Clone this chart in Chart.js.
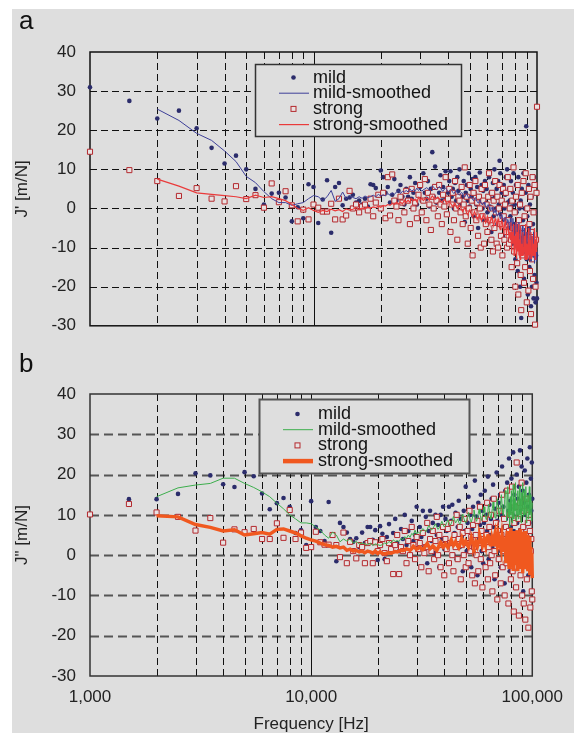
<!DOCTYPE html>
<html>
<head>
<meta charset="utf-8">
<script src="https://cdn.jsdelivr.net/npm/chart.js@4/dist/chart.umd.min.js"></script>
<style>
  body { margin: 0; background: #fff; width: 574px; height: 733px; overflow: hidden; position: relative; }
  #paper { position: absolute; left: 12px; top: 9px; right: 0; bottom: 0; background: #dedede; }
  canvas { position: absolute; left: 0; }
  #chartA { top: 0; }
  #chartB { top: 350px; }
  .tag { position: absolute; left: 19px; font: 26px 'Liberation Sans', Arial, sans-serif; line-height: 26px; color: #111; z-index: 2; }
</style>
</head>
<body>
<div id="paper"></div>
<canvas id="chartA" width="574" height="350"></canvas>
<canvas id="chartB" width="574" height="383"></canvas>
<div class="tag" style="top:7px">a</div>
<div class="tag" style="top:350px">b</div>
<script>
// frequency bins: 1,000 Hz to 100,000 Hz in 500 Hz steps
const FREQ_START = 1000;
const FREQ_STEP = 500;
const FREQ_COUNT = 199;
const FREQS = Array.from({ length: FREQ_COUNT }, (_, i) => FREQ_START + FREQ_STEP * i);

const Y_TICKS = [-30, -20, -10, 0, 10, 20, 30, 40];
const X_LABELS = [1000, 10000, 100000];
const X_GRID = [2000, 3000, 4000, 5000, 6000, 7000, 8000, 9000, 10000,
  20000, 30000, 40000, 50000, 60000, 70000, 80000, 90000];
const SERIES = ['mild', 'mild-smoothed', 'strong', 'strong-smoothed'];

// panel a: J' [m/N]
const A_MILD = [
  31, 27.5, 23, 25, 20.5, 15.5, 11.5, 13.5, 10, 5,
  1, 3.8, 4, 2.8, -3.3, 0.3, -2.5, 6.2, 5.5, -3.7,
  2.3, 7.2, -6.2, 5.5, 6.5, 0.8, 2.5, 2.8, 3.5, 1.5,
  2, 1, 2.5, 0.5, 6.2, 6, 5.2, 3.3, 9.7, 8,
  4, 5.5, 1.5, 3.5, 7.5, 2, 4.5, 6, 3, 1,
  5, 3, 8, 2.5, 4, 6.5, 1, 3.5, 5.5, 2,
  9, 4, 2.5, 7, 0.5, 5, 14.4, 3, 10.7, 1.5,
  6, 4, 8.5, 2, 5.5, 3, 9.5, -1.5, 4, 7,
  9.5, 3, 5, 0, 6.5, 2, 8, 4.5, 10, 1,
  5.5, 3, 7, -3.5, 4, 6, 2, 9, 0.5, 5,
  3, 7.5, -2, 4, 8, 1, 5.5, -5, 3, 9.2,
  2, 6, 0, 4.5, -3, 7, 1.5, 5, -1, 3,
  8, 0.5, 4, -6, 2.5, 6.5, -2, 10, 3, 0,
  5, -4, 7, 1, 12.2, 9, -1.5, 4, 2, -7,
  6, 0, 3.5, 8, -3, 10, 1.5, -5, 5, 2,
  -2, 7, 0.5, -9, 4, 9, -4, 1, -13, 6,
  -1, 3, -16, 8, -6, 0, -20, 2, -28, 5,
  -10, -3, 9, -18, 0, -7, 4, 21, -13, -2,
  -22, 6, -5, -15, 1, -9, -25, 3, -20, -11,
  -4, -23, 8, -17, -1, -24, -12, -19, -23
];
const A_MILD_SMOOTH = [
  null, null, 25.4, 22.5, 19.2, 17.4, 14.7, 12, 8.2, 6.6,
  4.3, 2.5, 1.5, 1.5, 0.8, 1.2, 1.5, 2.5, 3.3, 3,
  2, 3, 4.6, 1.8, 2.5, 4.2, 2.5, 3.2, 2.8, 2.5,
  3, 2.6, 3.2, 2.8, 3, 3.4, 3, 3.6, 3.2, 3.5,
  3.2, 3.8, 3.4, 4, 3.6, 4.2, 4.6, 3.8, 4.4, 4.2,
  4.6, 4.2, 5, 4.4, 4.8, 4.5, 5.2, 4.6, 5, 4.4,
  4.8, 5.0, 5.3, 5.1, 4.6, 4.9, 5.8, 5.4, 5.0, 4.8,
  5.2, 5.6, 5.3, 4.6, 4.4, 4.9, 5.2, 4.8, 4.3, 4.5,
  4.9, 4.6, 4.1, 3.8, 4.3, 4.6, 4.0, 3.6, 3.4, 3.8,
  4.1, 3.7, 3.2, 2.9, 3.4, 3.7, 3.1, 2.6, 2.9, 3.2,
  2.8, 2.3, 2.0, 2.5, 2.8, 2.2, 1.7, 1.4, 1.9, 2.2,
  1.7, 1.2, 0.9, 1.4, 1.6, 1.0, 0.4, 0.2, 0.8, 1.0,
  0.4, -0.3, -0.6, 0.1, 0.3, -0.5, -1.2, -0.9, -0.3, -1.0,
  -1.6, -2.0, -1.4, -1.1, -1.8, -2.6, -2.2, -1.5, -2.0, -3.0,
  -3.4, -2.6, -2.2, -3.0, -4.2, -3.5, -2.8, -3.6, -5.0, -4.4,
  -2.5, -4.5, -4, -6.5, -2.5, -5.5, -4.5, -7.5, -3.5, -5,
  -7, -4, -9, -5.5, -3.5, -8, -10, -5, -7, -9.5,
  -4.5, -10, -7, -11.5, -5, -9, -12, -6, -10, -13,
  -6, -10.5, -8, -12.5, -4.5, -10, -13.5, -7, -11.5, -9,
  -12.5, -6, -11, -14, -8, -12, -10, -13.5, -11
];
const A_STRONG = [
  14.5, 9.8, 7, 3.2, 5.2, 2.5, 1.8, 5.7, 2.4, 3.4,
  0.2, 6.4, 1.6, 4.4, 0.8, -3.3, -0.3, -2.8, 1, 0.2,
  -0.8, -0.8, 1.2, -2.8, 2.5, -2.8, -1.8, 4.5, 0, 1,
  -1, 0.5, 1, -0.5, 2.5, -2, 1.5, 3.5, 0, 4,
  -2.5, 8, -1.8, 8.7, 2, 0.5, -3, 3, 1.5, -1,
  4.5, 2, -4, 5, 0, 1.5, -2.5, 3.5, 6, -1,
  2, 7.5, -3, 4, 1, -5.5, 3, 0, 5.5, 2,
  -2, 6, 1, -4, 3.5, 0.5, 8, -1.5, 2.5, 5,
  -6, 1, 4, -3, 7, 0, -8, 3, 2, -1,
  5.5, -4, 1, 10.5, -2, 3, -9, 0, 6, -5,
  2, -12, 4, -1, 7, -3, 1.5, -7, 3, 0,
  -10, 5, -2, 2, -9, 6, -4, 1, -6, 3,
  9, -3, 0, -8, 4, -11, 2, -5, 7, -1,
  -9, 3, -10, 0, 6, -4, -7, 2, -12, 5,
  -2, -8, 1, 4, -6, -10, 8, -3, -9, 0,
  5, -8, -15, 2, -5, 10.5, -11, -1, -20, 3,
  -7, -14, 6, -22, -3, -9, 1, -17, -26, 4,
  -12, -5, 7, -19, -2, -15, 9, -8, -24, 0,
  -10, -21, 5, -4, -16, 3, -27, -6, -13, 8,
  -18, -1, -11, 6, -29.7, -20, -8, 4, 26
];
const A_STRONG_SMOOTH = [
  null, null, 7.5, 5.7, 4, 3.6, 3.3, 3, 2.5, 3.4,
  2.8, 3, 2.5, 2, 1, 0, -0.5, 0.2, -0.5, -1,
  -0.5, -0.8, -0.2, -0.6, -0.3, -0.8, -0.1, -0.4, -0.2, 0.2,
  -0.2, 0.1, -0.1, 0.4, 0.1, 0.4, 0.2, 0.6, 0.3, 0.8,
  0.6, 1, 0.8, 1.3, 1, 1.6, 1.2, 1.6, 1.2, 2,
  1.6, 2.1, 1.6, 2.5, 2, 2.4, 1.7, 2.8, 2.2, 2.6,
  2.0, 2.4, 2.8, 2.5, 2.1, 2.6, 3.2, 2.8, 2.3, 2.6,
  2.9, 2.5, 2.0, 1.6, 2.0, 2.3, 1.8, 1.2, 1.5, 1.9,
  1.4, 0.9, 0.5, 1.0, 1.3, 0.6, 0.0, 0.4, 0.9, 0.3,
  -0.3, -0.8, -0.2, 0.2, -0.5, -1.2, -1.6, -0.9, -0.4, -1.0,
  -1.6, -2.2, -1.5, -0.8, -1.3, -2.0, -2.8, -2.2, -1.4, -1.8,
  -2.5, -3.2, -2.4, -1.6, -2.2, -3.0, -3.6, -2.8, -2.0, -2.6,
  -3.4, -4.0, -3.0, -2.2, -2.8, -3.6, -4.4, -3.4, -2.6, -3.2,
  -4.2, -3.4, -2.6, -3.3, -4.8, -5.4, -4.0, -3.0, -3.8, -5.0,
  -5.8, -4.4, -3.2, -4.6, -6.5, -5.2, -3.8, -5.4, -7.5, -6.0,
  -8, -3.5, -11, -6, -9, -4, -12, -7, -10, -3.5,
  -13, -6, -11, -4, -12, -8, -13, -5, -12, -9,
  -12, -6, -12, -10, -7, -13, -4, -13, -9, -11,
  -13, -5, -12, -8, -13, -10, -6, -13, -11, -7,
  -12, -9, -12, -5, -13, -8, -11, -6, -10
];

// panel b: J" [m/N]
const B_MILD = [
  null, 13.9, 13.9, 15.2, 20.3, 19.8, 17.6, 16.9, 20.6, 19.6,
  15.3, 11.4, 12.9, 14.2, 12, 5.5, 6.2, 2.5, 13.4, 7,
  6, 3.5, 13.2, 5, -1.5, 8, 7, 5.6, 4, 3.3,
  4.2, 2, 5.6, 3, 7, 7, 3.8, 6.2, -1.2, 7.2,
  5.3, -1, 4.5, 7.7, 2, 5.5, 9, 3, 1, 6.5,
  4, 10, 2.5, 6, 0, 8.5, 3.5, 5, 12, 1.5,
  7, 4.5, 11, 2, 9.5, -2, 6, 11, 3.5, 8,
  0.5, 10, 5, 7.5, -3, 10, 4, 12, 1.5, 9,
  6, -2, 12, 3, 8.5, 12.5, 0, 5.5, 10.5, -1,
  7, 13.5, 2, 9, 4.5, -4, 11, 6, 17, 1,
  8, 14.5, 3, 10, -3, 6.5, 12, 0.5, 18.5, 5,
  9.5, -5, 13, 4, 7.5, 15, 1, 11, -2, 8,
  16, 3.5, 10, 6, 19.5, -1, 12.5, 5, 9, 14,
  2, 17.5, 7, -6, 11.5, 4, 20.5, 8.5, 1, 13,
  6, 15, -3, 10, 22, 3, 12, 7, -7, 16,
  9, 1, 18, 5, 11, 24, -4, 13.5, 7, 19,
  2, 10, 25.5, 6, 15, -8, 12, 4, 20, 8,
  14, -2, 17, 9, 26, 3, 11, 22, 6, 16,
  -9, 13, 7, 21, 10, 1, 18, 5, 24, 12,
  -5, 15, 8, 26.8, 4, 19, 11, 23, 14
];
const B_MILD_SMOOTH = [
  null, null, 14.5, 16.7, 17.4, 17.8, 19.1, 19.1, 17.8, 16.8,
  15.7, 14.5, 12.9, 11.5, 10, 9, 8, 8, 7.8, 7,
  6.2, 5, 4.2, 5.7, 5, 3.3, 4, 3.5, 4, 3,
  3.4, 2.8, 3, 2.8, 2.6, 3, 2.4, 2.8, 2.6, 2.4,
  2.6, 3, 2.8, 3.4, 3, 3.8, 3.4, 3.6, 3.4, 4.2,
  3.8, 4.6, 4.2, 5, 4.4, 5.4, 5, 6.2, 5.2, 5.8,
  5.4, 6.0, 6.6, 6.2, 5.8, 6.4, 7.4, 6.8, 6.2, 6.6,
  7.2, 7.8, 7.0, 6.4, 6.8, 7.6, 8.4, 7.6, 7.0, 7.4,
  8.0, 8.8, 8.2, 7.4, 7.8, 8.6, 9.6, 8.8, 8.0, 8.4,
  9.0, 8.2, 7.6, 8.2, 9.4, 10.2, 9.2, 8.4, 8.0, 8.8,
  9.6, 10.6, 9.6, 8.6, 8.2, 9.0, 10.0, 11.2, 10.0, 9.0,
  8.4, 9.2, 10.4, 11.4, 10.2, 9.2, 8.6, 9.6, 10.8, 12.0,
  10.6, 9.4, 8.8, 9.8, 11.2, 12.6, 11.0, 9.8, 9.0, 10.2,
  11.6, 13.2, 11.4, 9.8, 9.2, 10.6, 12.4, 14.0, 12.0, 10.4,
  9.6, 11.0, 13.0, 15.0, 12.6, 10.6, 9.8, 11.6, 13.8, 16.0,
  15.5, 8.5, 11, 17, 9.5, 13, 7, 14.5, 10, 16,
  8, 12, 17.5, 9, 14, 11, 18, 8.5, 13, 10,
  16, 9, 12.5, 17, 10, 14, 8, 15.5, 11, 18,
  9.5, 13, 16, 10, 12, 17, 8, 14, 11, 15,
  9, 13.5, 17, 10, 12, 15, 8.5, 11, 13
];
const B_STRONG = [
  10.1, 12.7, 10.6, 9.5, 6.1, 9.2, 3.1, 6.4, 5.7, 6.5,
  4, 4, 7.9, 4.3, 11.2, 4, 5.6, 1.8, 2, 5.8,
  3.2, 2.6, 2.6, 5, 2.5, -0.5, 5.6, -2, 3.3, 1,
  -0.8, 2.5, 2, -2, 3, 3.5, -2, 3.2, 1, 2.5,
  4, 0.5, -1.5, 3, 1.5, -4.7, 2.5, 5, -4.7, 2,
  1, 6, -2, 3.5, 0, 7, 2.5, -1, 4.5, 1.5,
  3, -3, 5.5, 0.5, 2, 8, -4, 4, 1, 6,
  -1, 3.5, 9.5, 0, 5, -3, 2.5, 7, -5, 4,
  1.5, 6.5, -2, 3, 8, 0, -4, 5, 2, 10,
  -1, 4, 7, -6, 2.5, 5.5, 0, 9, -3, 3,
  6, -2, 11, 1, 4.5, -5, 7.5, 2, -7, 5,
  0, 8.5, -4, 3, 12, -1, 6, -8, 4, 1.5,
  9, -3, 5, 13, -6, 2, 7, -2, 10, 0,
  -9, 4, 14, 1, -5, 8, 3, -11, 6, -1,
  11, 2, -7, 5, 15, -3, 1, 9, -10, 4,
  7, -2, 16, 0, -12, 6, 3, 10, -6, 2,
  17, -4, 5, -14, 8, 1, 12, -8, 23, 3,
  -1, 9, -15, 4, 13, -5, 6, 18, -10, 2,
  7, -12, 11, 0, -16, 5, 14, -6, 3, 8,
  -18, 10, -3, 6, -13, 1, 4, -9, -11
];
const B_STRONG_SMOOTH = [
  null, null, 9.8, 9.5, 7.6, 6.9, 6, 6.3, 5, 5.3,
  5.6, 5.2, 6.4, 6.5, 6, 5.5, 4.8, 4.2, 3.8, 3.5,
  3, 2.6, 2.4, 2, 2.2, 1.8, 2, 1.2, 1.5, 1,
  1.2, 0.8, 1, 0.6, 1, 0.8, 0.5, 1, 0.4, 0.8,
  0.4, 0.3, 0.5, 0.6, 0.5, 0.7, 0.9, 0.8, 1.0, 1.2,
  1.1, 1.3, 1.6, 1.4, 1.2, 1.6, 2.2, 1.8, 1.5, 1.7,
  2.0, 1.7, 1.4, 1.8, 2.4, 2.9, 2.2, 1.6, 1.9, 2.3,
  2.0, 1.5, 1.2, 1.8, 2.6, 3.2, 2.6, 2.0, 2.3, 2.8,
  2.4, 1.9, 2.4, 3.2, 3.8, 3.0, 2.4, 2.7, 3.3, 2.8,
  2.2, 1.8, 2.5, 3.4, 4.2, 3.4, 2.6, 2.9, 3.5, 3.0,
  2.4, 2.0, 2.8, 3.6, 4.4, 3.6, 2.8, 2.2, 2.9, 3.4,
  2.8, 2.2, 3.0, 3.8, 4.6, 3.8, 3.0, 2.4, 3.2, 4.0,
  3.2, 2.5, 3.4, 4.4, 5.2, 4.2, 3.2, 2.6, 3.4, 4.4,
  3.5, 2.6, 3.6, 4.8, 5.6, 4.2, 3.0, 2.2, 3.4, 4.6,
  3.8, 2.6, 1.8, 3.2, 4.8, 3.4, 2.0, 1.2, 2.8, 4.4,
  -2, 3.5, 6, 0.5, 2.8, -3, 5, 1.5, 6.8, -1,
  3.2, 4.8, -3.5, 6, 0.8, 2.5, -2.5, 5.5, 1, 6.2,
  -4, 3, 5.2, -1.5, 2, 6.5, -3, 4, 0.5, -4.5,
  5.8, 1.8, -2, 3.5, 6, -3.5, 2.5, 0, 5, -4,
  3, -1, 4.5, -5, 1.5, 2, -3, 0.5, -5.7
];

const FONT = "'Liberation Sans', Arial, sans-serif";
const PAPER = '#dedede';
const NAVY = '#2b2c6b';
const SQUARE_RED = '#b3282d';

Chart.defaults.font.family = FONT;
Chart.defaults.color = '#222';

const toPoints = (values) => values
  .map((v, i) => (v === null ? null : { x: FREQS[i], y: v }))
  .filter(Boolean);

// dashed grid + plot frame, drawn under the data
const gridPlugin = {
  id: 'dashGrid',
  beforeDatasetsDraw(chart, args, o) {
    const { ctx, chartArea: a, scales: { x, y } } = chart;
    ctx.save();
    ctx.lineWidth = o.hWidth;
    ctx.strokeStyle = o.hColor;
    ctx.setLineDash(o.hDash);
    Y_TICKS.slice(1, -1).forEach((v) => {
      const py = Math.round(y.getPixelForValue(v)) + 0.5;
      ctx.beginPath();
      ctx.moveTo(a.left, py);
      ctx.lineTo(a.right, py);
      ctx.stroke();
    });
    ctx.lineWidth = 1;
    ctx.strokeStyle = o.vColor;
    X_GRID.forEach((f) => {
      const px = Math.round(x.getPixelForValue(f)) + 0.5;
      ctx.setLineDash(f === 10000 ? [] : o.vDash);
      ctx.beginPath();
      ctx.moveTo(px, a.top);
      ctx.lineTo(px, a.bottom);
      ctx.stroke();
    });
    ctx.setLineDash([]);
    ctx.lineWidth = 1.5;
    ctx.strokeStyle = o.frameColor;
    ctx.strokeRect(a.left, a.top, a.right - a.left, a.bottom - a.top);
    ctx.restore();
  },
};

// boxed legend inside the plot
const boxLegend = {
  id: 'boxLegend',
  afterDatasetsDraw(chart, args, o) {
    const { ctx, chartArea: a } = chart;
    const bx = a.left + o.dx;
    const by = a.top + o.dy;
    ctx.save();
    ctx.setLineDash([]);
    ctx.fillStyle = PAPER;
    ctx.fillRect(bx, by, o.w, o.h);
    ctx.lineWidth = o.borderWidth;
    ctx.strokeStyle = o.borderColor;
    ctx.strokeRect(bx + 0.5, by + 0.5, o.w, o.h);
    ctx.font = '18px ' + FONT;
    ctx.textBaseline = 'alphabetic';
    chart.data.datasets.forEach((ds, i) => {
      const base = by + o.rowBase + i * o.rowGap;
      const my = base - 5;
      if (ds.showLine) {
        ctx.strokeStyle = ds.borderColor;
        ctx.lineWidth = ds.legendWidth || ds.borderWidth;
        ctx.beginPath();
        ctx.moveTo(bx + 24, my);
        ctx.lineTo(bx + 54, my);
        ctx.stroke();
      } else if (ds.pointStyle === 'rect') {
        ctx.fillStyle = ds.backgroundColor;
        ctx.strokeStyle = ds.borderColor;
        ctx.lineWidth = 1;
        ctx.fillRect(bx + 36, my - 2.5, 5, 5);
        ctx.strokeRect(bx + 36, my - 2.5, 5, 5);
      } else {
        ctx.fillStyle = ds.backgroundColor;
        ctx.beginPath();
        ctx.arc(bx + 38.5, my, 2.3, 0, Math.PI * 2);
        ctx.fill();
      }
      ctx.fillStyle = '#111';
      ctx.fillText(ds.label, bx + o.textX, base);
    });
    ctx.restore();
  },
};

function makePanel(canvasId, p) {
  const datasets = [
    {
      label: SERIES[0], data: toPoints(p.mild), showLine: false, order: 3,
      pointStyle: 'circle', pointRadius: 2.3, backgroundColor: NAVY, borderWidth: 0, clip: false,
    },
    {
      label: SERIES[1], data: toPoints(p.mildSmooth), showLine: true, order: 1,
      borderColor: p.mildLine, borderWidth: 1, pointRadius: 0, tension: 0, clip: false,
    },
    {
      label: SERIES[2], data: toPoints(p.strong), showLine: false, order: 2,
      pointStyle: 'rect', pointRadius: 3.6, backgroundColor: '#e8e2e2',
      borderColor: SQUARE_RED, borderWidth: 1, clip: false,
    },
    {
      label: SERIES[3], data: toPoints(p.strongSmooth), showLine: true, order: 0,
      borderColor: p.strongLine, borderWidth: p.strongWidth, legendWidth: p.strongLegendWidth,
      pointRadius: 0, tension: 0, clip: false,
    },
  ];

  return new Chart(document.getElementById(canvasId), {
    type: 'scatter',
    data: { datasets },
    plugins: [gridPlugin, boxLegend],
    options: {
      responsive: false,
      animation: false,
      events: [],
      layout: { padding: p.padding },
      plugins: {
        legend: { display: false },
        tooltip: { enabled: false },
        dashGrid: p.grid,
        boxLegend: p.legend,
      },
      scales: {
        x: {
          type: 'logarithmic',
          min: 1000,
          max: 100000,
          grid: { display: false, drawTicks: false },
          border: { display: false },
          ticks: {
            display: p.showX,
            autoSkip: false,
            maxRotation: 0,
            padding: 11,
            font: { size: 17 },
            callback: (v) => (X_LABELS.includes(Math.round(v)) ? Math.round(v).toLocaleString('en-US') : ''),
          },
          title: {
            display: p.showX,
            text: 'Frequency [Hz]',
            font: { size: 17, lineHeight: 1 },
            padding: { top: 0, bottom: 0 },
          },
          afterFit: (scale) => { scale.height = p.xHeight; },
        },
        y: {
          min: -30,
          max: 40,
          grid: { display: false, drawTicks: false },
          border: { display: false },
          ticks: { stepSize: 10, padding: 14, font: { size: 17 } },
          title: {
            display: true,
            text: p.yTitle,
            font: { size: 17 },
            padding: { top: 12, bottom: 0 },
          },
          afterFit: (scale) => { scale.width = 90; },
        },
      },
    },
  });
}

makePanel('chartA', {
  mild: A_MILD, mildSmooth: A_MILD_SMOOTH, strong: A_STRONG, strongSmooth: A_STRONG_SMOOTH,
  mildLine: '#3d3f98', strongLine: '#ea3b3b', strongWidth: 1.2, strongLegendWidth: 1.2,
  yTitle: "J' [m/N]",
  showX: false, xHeight: 0,
  padding: { left: 0, top: 52, right: 37, bottom: 16 },
  grid: { hColor: '#111', hWidth: 1, hDash: [7, 4], vColor: '#111', vDash: [7, 4], frameColor: '#111' },
  legend: { dx: 165, dy: 12, w: 206, h: 72, borderColor: '#333', borderWidth: 1.5, rowBase: 18.5, rowGap: 15.7, textX: 58 },
});

makePanel('chartB', {
  mild: B_MILD, mildSmooth: B_MILD_SMOOTH, strong: B_STRONG, strongSmooth: B_STRONG_SMOOTH,
  mildLine: '#3cae4c', strongLine: '#f0581f', strongWidth: 3.5, strongLegendWidth: 4.5,
  yTitle: 'J" [m/N]',
  showX: true, xHeight: 57,
  padding: { left: 0, top: 44, right: 37, bottom: 0 },
  grid: { hColor: '#555', hWidth: 2, hDash: [9, 5], vColor: '#111', vDash: [7, 4], frameColor: '#333' },
  legend: { dx: 169, dy: 5, w: 210, h: 74, borderColor: '#555', borderWidth: 2, rowBase: 20, rowGap: 15.7, textX: 59 },
});
</script>
</body>
</html>
